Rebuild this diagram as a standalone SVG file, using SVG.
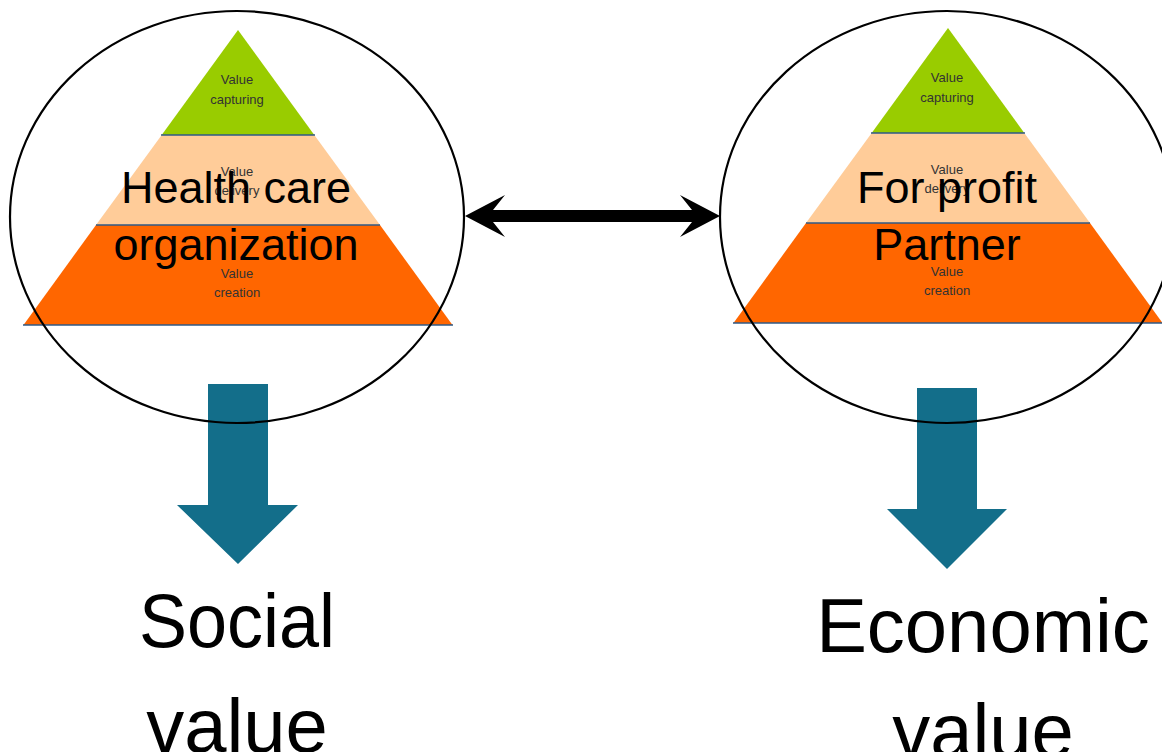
<svg xmlns="http://www.w3.org/2000/svg" width="1162" height="752" viewBox="0 0 1162 752">
<style>
.g{fill:#99CC00}.p{fill:#FFCC99}.o{fill:#FF6600}
.sep{stroke:#2E5A87;stroke-width:1.5}
.small{font-family:"Liberation Sans",Arial,sans-serif;font-size:13px;fill:#333;text-anchor:middle}
.mid{font-family:"Liberation Sans",Arial,sans-serif;font-size:45px;fill:#000;text-anchor:middle}
.big{font-family:"Liberation Sans",Arial,sans-serif;font-size:76px;fill:#000;text-anchor:middle}
.ring{fill:none;stroke:#000;stroke-width:2.2}
.block{fill:#136E8A}
</style>
<rect width="1162" height="752" fill="#fff"/>
<g id="pyramid-left">
<polygon class="g" points="238,30 161.7,135 314.3,135"/>
<polygon class="p" points="161.7,135 314.3,135 380,225 96,225"/>
<polygon class="o" points="96,225 380,225 452.5,325 23.5,325"/>
<line class="sep" x1="161" y1="135" x2="315" y2="135"/>
<line class="sep" x1="96" y1="225" x2="380" y2="225"/>
<line class="sep" x1="23" y1="325" x2="453" y2="325"/>
<text class="small" x="237" y="84">Value</text>
<text class="small" x="237" y="104">capturing</text>
<text class="small" x="237" y="176">Value</text>
<text class="small" x="237" y="195">delivery</text>
<text class="small" x="237" y="278">Value</text>
<text class="small" x="237" y="297">creation</text>
</g>
<g id="pyramid-right">
<polygon class="g" points="948,28 871.7,133 1024.3,133"/>
<polygon class="p" points="871.7,133 1024.3,133 1090,223 806,223"/>
<polygon class="o" points="806,223 1090,223 1162.5,323 733.5,323"/>
<line class="sep" x1="871" y1="133" x2="1025" y2="133"/>
<line class="sep" x1="806" y1="223" x2="1090" y2="223"/>
<line class="sep" x1="733" y1="323" x2="1162" y2="323"/>
<text class="small" x="947" y="82">Value</text>
<text class="small" x="947" y="102">capturing</text>
<text class="small" x="947" y="174">Value</text>
<text class="small" x="947" y="193">delivery</text>
<text class="small" x="947" y="276">Value</text>
<text class="small" x="947" y="295">creation</text>
</g>
<g id="connectors">
<polygon class="block" points="208,384 268,384 268,505 298,505 238,564 177,505 208,505"/>
<polygon class="block" points="917,388 977,388 977,509 1007,509 947,569 887,509 917,509"/>
<polygon fill="#000" points="465,216 505,195 493,210 692,210 680,195 720,216 680,237 692,222 493,222 505,237"/>
</g>
<g id="node-health-care">
<ellipse class="ring" cx="237" cy="217" rx="227" ry="206"/>
<text class="mid" x="236" y="203">Health care</text>
<text class="mid" x="236" y="260">organization</text>
</g>
<g id="node-for-profit">
<ellipse class="ring" cx="947" cy="217" rx="227" ry="206"/>
<text class="mid" x="947" y="203">For profit</text>
<text class="mid" x="947" y="260">Partner</text>
</g>
<g id="node-social-value">
<text class="big" x="237" y="647" textLength="196" lengthAdjust="spacingAndGlyphs">Social</text>
<text class="big" x="237" y="752">value</text>
</g>
<g id="node-economic-value">
<text class="big" x="983" y="652">Economic</text>
<text class="big" x="983" y="757">value</text>
</g>
</svg>
